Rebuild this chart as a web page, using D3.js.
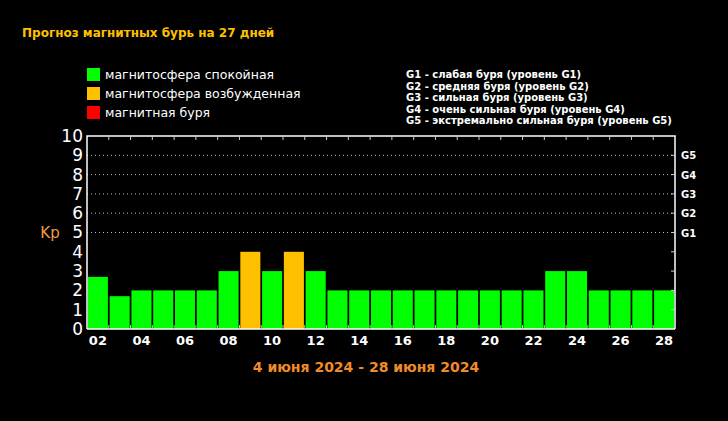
<!DOCTYPE html>
<html><head><meta charset="utf-8">
<script src="https://cdn.jsdelivr.net/npm/d3@7"></script>
<style>body{margin:0;background:#000}svg{display:block}</style>
</head><body>
<script>
var days = ["02","03","04","05","06","07","08","09","10","11","12","13","14","15","16","17","18","19","20","21","22","23","24","25","26","27","28"];
var kp = [2.7,1.7,2,2,2,2,3,4,3,4,3,2,2,2,2,2,2,2,2,2,2,3,3,2,2,2,2];
var gLevels = ["G1","G2","G3","G4","G5"];
var legendLeft = ["магнитосфера спокойная","магнитосфера возбужденная","магнитная буря"];
var legendColors = ["#00ff00","#ffc000","#ff0000"];
var legendRight = ["G1 - слабая буря (уровень G1)","G2 - средняя буря (уровень G2)","G3 - сильная буря (уровень G3)","G4 - очень сильная буря (уровень G4)","G5 - экстремально сильная буря (уровень G5)"];

var svg = d3.select("body").append("svg").attr("width",728).attr("height",421)
  .style("font-family","Verdana, 'DejaVu Sans', sans-serif");
svg.append("rect").attr("width",728).attr("height",421).attr("fill","#000");

svg.append("text").attr("x",22).attr("y",37).attr("fill","#ffc000")
  .attr("font-size",12).attr("font-weight","bold").text("Прогноз магнитных бурь на 27 дней");

legendLeft.forEach(function(t,i){
  svg.append("rect").attr("x",87).attr("y",68+i*19).attr("width",13).attr("height",13).attr("fill",legendColors[i]);
  svg.append("text").attr("x",105).attr("y",79+i*19).attr("fill","#fff").attr("font-size",12.5).text(t);
});
legendRight.forEach(function(t,i){
  svg.append("text").attr("x",406).attr("y",78+i*11.5).attr("fill","#fff").attr("font-size",10).attr("font-weight","bold").text(t);
});

var x0 = 87, x1 = 675, yT = 136, yB = 329;
var x = d3.scaleBand().domain(days).range([x0,x1]).paddingInner(0.08).paddingOuter(0.04);
var y = d3.scaleLinear().domain([0,10]).range([yB,yT]);

// dotted grid
svg.selectAll("line.grid").data([5,6,7,8,9]).enter().append("line")
  .attr("x1",x0).attr("x2",x1).attr("y1",function(d){return y(d);}).attr("y2",function(d){return y(d);})
  .attr("stroke","#bbb").attr("stroke-dasharray","1,3");

svg.selectAll("rect.bar").data(kp).enter().append("rect")
  .attr("x",function(d,i){return x(days[i]);})
  .attr("width",x.bandwidth())
  .attr("y",function(d){return y(d);})
  .attr("height",function(d){return yB-y(d);})
  .attr("fill",function(d){return d>=5?"#ff0000":(d>=4?"#ffc000":"#00ff00");});

// frame
svg.append("path").attr("d","M"+x0+","+yB+"V"+yT+"H"+x1+"V"+yB).attr("fill","none").attr("stroke","#fff").attr("stroke-width",1.5);
svg.append("line").attr("x1",x0).attr("x2",x1).attr("y1",yB).attr("y2",yB).attr("stroke","#fff").attr("stroke-width",1.5);

// boundary ticks top & bottom
var step = (x1-x0)/days.length;
d3.range(1,days.length).forEach(function(i){
  var xx = x0+i*step;
  svg.append("line").attr("x1",xx).attr("x2",xx).attr("y1",yT).attr("y2",yT+4).attr("stroke","#ccc");
  svg.append("line").attr("x1",xx).attr("x2",xx).attr("y1",yB).attr("y2",yB-4).attr("stroke","#ccc");
});
// right ticks
d3.range(1,10).forEach(function(v){
  svg.append("line").attr("x1",x1).attr("x2",x1-4).attr("y1",y(v)).attr("y2",y(v)).attr("stroke","#ccc");
});

svg.append("g").attr("transform","translate("+(x0-2)+",0)")
  .call(d3.axisLeft(y).ticks(10).tickSize(0).tickPadding(2))
  .call(function(g){g.select(".domain").remove();
    g.selectAll("text").attr("fill","#fff").attr("font-size",17).attr("font-family","Verdana, 'DejaVu Sans', sans-serif");});

svg.selectAll("text.g").data(gLevels).enter().append("text")
  .attr("x",681).attr("y",function(d,i){return y(i+5)+4;})
  .attr("fill","#fff").attr("font-size",10).attr("font-weight","bold").text(function(d){return d;});

svg.append("g").attr("transform","translate(0,"+(yB+2)+")")
  .call(d3.axisBottom(x).tickValues(days.filter(function(d){return +d%2===0;})).tickSize(0).tickPadding(5))
  .call(function(g){g.select(".domain").remove();
    g.selectAll("text").attr("fill","#fff").attr("font-size",13).attr("font-weight","bold").attr("font-family","Verdana, 'DejaVu Sans', sans-serif");});

svg.append("text").attr("x",50).attr("y",238).attr("text-anchor","middle").attr("fill","#f39c3c").attr("font-size",15).text("Kp");

svg.append("text").attr("x",366).attr("y",372).attr("text-anchor","middle").attr("fill","#f08c28")
  .attr("font-size",14).attr("font-weight","bold").text("4 июня 2024 - 28 июня 2024");
</script>
</body></html>
